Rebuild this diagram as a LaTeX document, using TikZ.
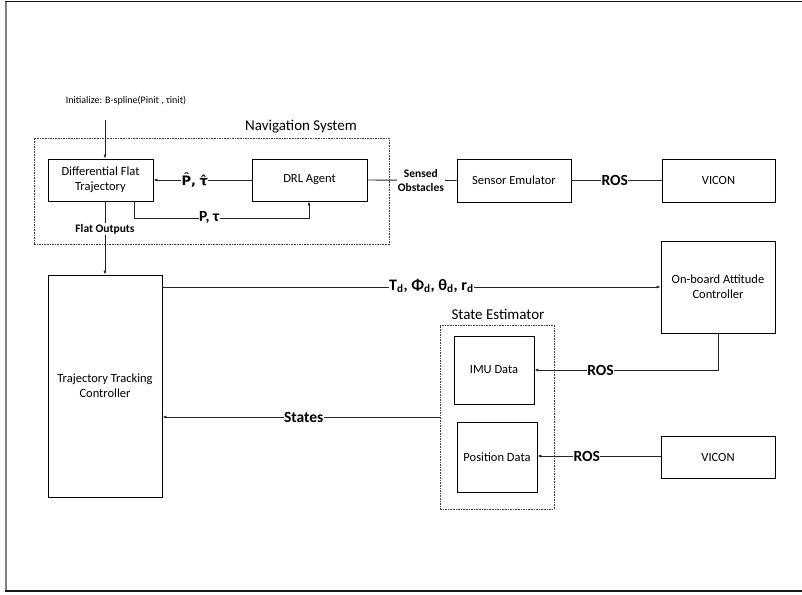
\documentclass[tikz,border=0pt]{standalone}
\usepackage{fontspec}
\setmainfont{Carlito}
\newfontfamily\dejavu{DejaVu Sans}
\usetikzlibrary{arrows.meta}
\tikzset{
  blk/.style={draw=black, line width=0.9pt, inner sep=1pt, align=center, font=\fontsize{12.5}{15}\selectfont},
  dashbox/.style={draw=black!75, dashed, dash pattern=on 1.6pt off 1pt, line width=0.9pt},
  conn/.style={draw=black!85, line width=0.9pt},
  arr/.style={conn, -{Latex[length=4pt,width=3.2pt]}},
  lbl/.style={fill=white, inner sep=0.5pt, font=\fontsize{15.5}{17}\selectfont\bfseries},
  slbl/.style={fill=white, inner sep=1pt, align=center, font=\fontsize{11.5}{14}\selectfont\bfseries},
  ttl/.style={font=\fontsize{15}{17}\selectfont},
}
\begin{document}
\begin{tikzpicture}[x=1pt,y=-1pt]
\useasboundingbox (0,0) rectangle (802,594);
% frame
\draw[black!50, line width=2pt] (6,1) -- (6,591);
\draw[black!90, line width=1.5pt] (5,1.5) -- (802,1.5);
\draw[black!90, line width=2pt] (5,591) -- (802,591);

% nodes
\node[dashbox, minimum width=355pt, minimum height=106pt] (nav) at (211.5,191) {};
\node[ttl] (navt) at (301,127) {Navigation System};
\node[dashbox, minimum width=114pt, minimum height=184pt] (se) at (497,417) {};
\node[ttl] (set) at (498,314) {State Estimator};

\node[font=\fontsize{10}{12}\selectfont] (init) at (126,101) {Initialize: B-spline(Pinit , τinit)};
\coordinate (inits) at (105,120);

\node[blk, minimum width=105pt, minimum height=42pt] (dft) at (100.5,180) {Differential Flat\\Trajectory};
\node[blk, minimum width=115pt, minimum height=42pt] (drl) at (309.5,180) {DRL Agent};
\node[blk, minimum width=114pt, minimum height=43pt] (sens) at (514,180.5) {Sensor Emulator};
\node[blk, minimum width=113pt, minimum height=43pt] (vic1) at (718.5,180.5) {VICON};
\node[blk, minimum width=114pt, minimum height=222pt] (ttc) at (105,386) {Trajectory Tracking\\Controller};
\node[blk, minimum width=114pt, minimum height=92pt] (onb) at (718,287) {On-board Attitude\\Controller};
\node[blk, minimum width=80pt, minimum height=68pt] (imu) at (494,370) {IMU Data};
\node[blk, minimum width=80pt, minimum height=70pt] (pos) at (497,457) {Position Data};
\node[blk, minimum width=114pt, minimum height=42pt] (vic2) at (718,457) {VICON};

% connectors
\draw[arr] (inits) -- (inits |- dft.north);
\draw[arr] (drl.west) -- node[lbl, pos=0.58, font=\dejavu\fontsize{13}{15}\selectfont\bfseries] {P̂,\kern-1pt\ τ̂} (dft.east);
\coordinate (pa) at (134,218);
\coordinate (pb) at (309,218);
\draw[arr] (dft.south -| pa) -- (pa) -- node[lbl, pos=0.43] {P, τ} (pb) -- (drl.south -| pb);
\draw[arr] (dft.south -| inits) -- node[slbl, pos=0.38] {Flat Outputs} (ttc.north -| inits);
\draw[conn] (drl.east) -- node[slbl, pos=0.6] {Sensed\\Obstacles} (sens.west);
\draw[conn] (sens.east) -- node[lbl, pos=0.48] {ROS} (vic1.west);
\coordinate (td) at (ttc.east |- 0,287);
\draw[arr] (td) -- node[lbl, pos=0.54, yshift=1pt, font=\fontsize{16}{18}\selectfont\bfseries] {T\textsubscript{d}, Φ\textsubscript{d}, θ\textsubscript{d}, r\textsubscript{d}} (onb.west |- td);
\coordinate (oc) at (718,370);
\draw[arr] (onb.south -| oc) -- (oc) -- node[lbl, pos=0.64] {ROS} (imu.east |- oc);
\draw[arr] (vic2.west |- 0,456) -- node[lbl, pos=0.6] {ROS} (pos.east |- 0,456);
\draw[arr] (se.west |- 0,417) -- node[lbl, pos=0.49] {States} (ttc.east |- 0,417);
\end{tikzpicture}
\end{document}
